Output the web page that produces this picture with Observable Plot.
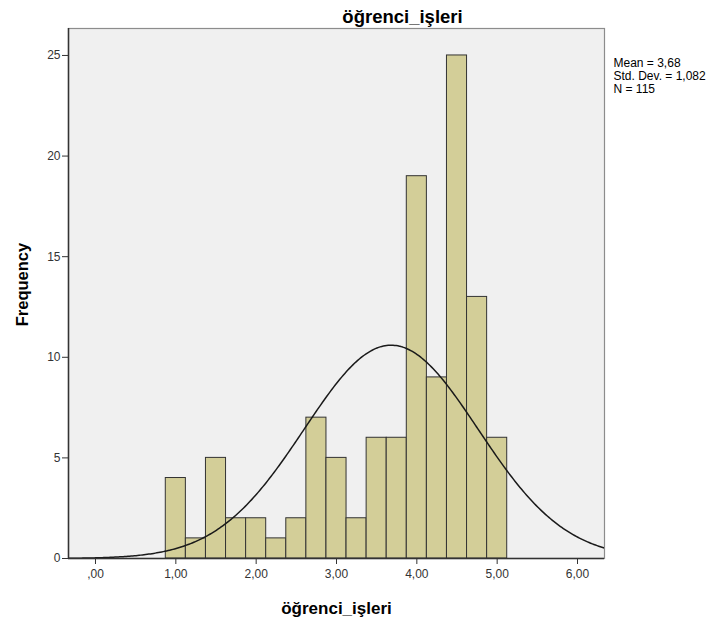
<!DOCTYPE html>
<html>
<head>
<meta charset="utf-8">
<script src="https://cdn.jsdelivr.net/npm/d3@7"></script>
<script src="https://cdn.jsdelivr.net/npm/@observablehq/plot@0.6"></script>
<style>
  body { margin: 0; background: #fff; }
  svg { font-family: "Liberation Sans", Arial, sans-serif; }
</style>
</head>
<body>
<div id="chart"></div>
<script>
// Data
const binCenters = [1.00, 1.25, 1.50, 1.75, 2.00, 2.25, 2.50, 2.75, 3.00, 3.25, 3.50, 3.75, 4.00, 4.25, 4.50, 4.75, 5.00];
const counts     = [4, 1, 5, 2, 2, 1, 2, 7, 5, 2, 6, 6, 19, 9, 25, 13, 6];
const binWidth = 0.25;
const meanVal = 3.68;
const sdVal = 1.082;
const nVal = 115;
const xTicks = [0, 1, 2, 3, 4, 5, 6];
const xTickLabels = [",00", "1,00", "2,00", "3,00", "4,00", "5,00", "6,00"];
const yTicks = [0, 5, 10, 15, 20, 25];
const titleText = "öğrenci_işleri";
const xLabelText = "öğrenci_işleri";
const yLabelText = "Frequency";
const statsText = ["Mean = 3,68", "Std. Dev. = 1,082", "N = 115"];

const xDomain = [-0.336, 6.336];
const yDomain = [0, 26.34];

const bars = binCenters.map((c, i) => ({x1: c - binWidth / 2, x2: c + binWidth / 2, y: counts[i]}));

// fitted normal curve defined by the stated mean / sd / N
const curve = d3.range(xDomain[0], xDomain[1] + 0.01, 0.02).map(x => ({
  x,
  y: nVal * binWidth * Math.exp(-0.5 * ((x - meanVal) / sdVal) ** 2) / (sdVal * Math.sqrt(2 * Math.PI))
}));

const chart = Plot.plot({
  width: 726,
  height: 627,
  marginLeft: 68,
  marginRight: 122,
  marginTop: 28,
  marginBottom: 69,
  style: {fontFamily: "'Liberation Sans', Arial, sans-serif", fontSize: "12px", color: "#333", background: "#fff"},
  x: {domain: xDomain},
  y: {domain: yDomain},
  marks: [
    Plot.frame({fill: "#f0f0f0", stroke: "#8c8c8c", strokeWidth: 1.2}),
    Plot.rectY(bars, {x1: "x1", x2: "x2", y: "y", fill: "#d3ce98", stroke: "#333", strokeWidth: 1, inset: 0}),
    Plot.line(curve, {x: "x", y: "y", stroke: "#1a1a1a", strokeWidth: 1.5, clip: true}),
    Plot.ruleX([xDomain[0]], {stroke: "#333", strokeWidth: 1.5}),
    Plot.ruleY([0], {stroke: "#333", strokeWidth: 1.5}),
    Plot.axisY({ticks: yTicks, tickSize: 6, tickPadding: 2, tickFormat: d => String(d), fontSize: 12, stroke: "#333", fill: "#333", label: null}),
    Plot.axisX({ticks: xTicks, tickSize: 6, tickPadding: 5, tickFormat: d => xTickLabels[xTicks.indexOf(d)], fontSize: 12, stroke: "#333", fill: "#333", label: null}),
    Plot.text([titleText], {frameAnchor: "top", dy: -19, dx: 66, fontSize: 18.5, fontWeight: "bold", fill: "#000", letterSpacing: "1px"}),
    Plot.text([xLabelText], {frameAnchor: "bottom", dy: 55, dx: 0, fontSize: 17, fontWeight: "bold", fill: "#000", letterSpacing: "1px"}),
    Plot.text([yLabelText], {frameAnchor: "left", rotate: -90, textAnchor: "middle", dx: -46, dy: -9, fontSize: 16.5, fontWeight: "bold", fill: "#000", letterSpacing: "1px"}),
    Plot.text([statsText.join("\n")], {frameAnchor: "top-right", textAnchor: "start", lineAnchor: "top", lineHeight: 1.05, dx: 9, dy: 30, fontSize: 12, fill: "#000"})
  ]
});
document.getElementById("chart").appendChild(chart);
</script>
</body>
</html>
